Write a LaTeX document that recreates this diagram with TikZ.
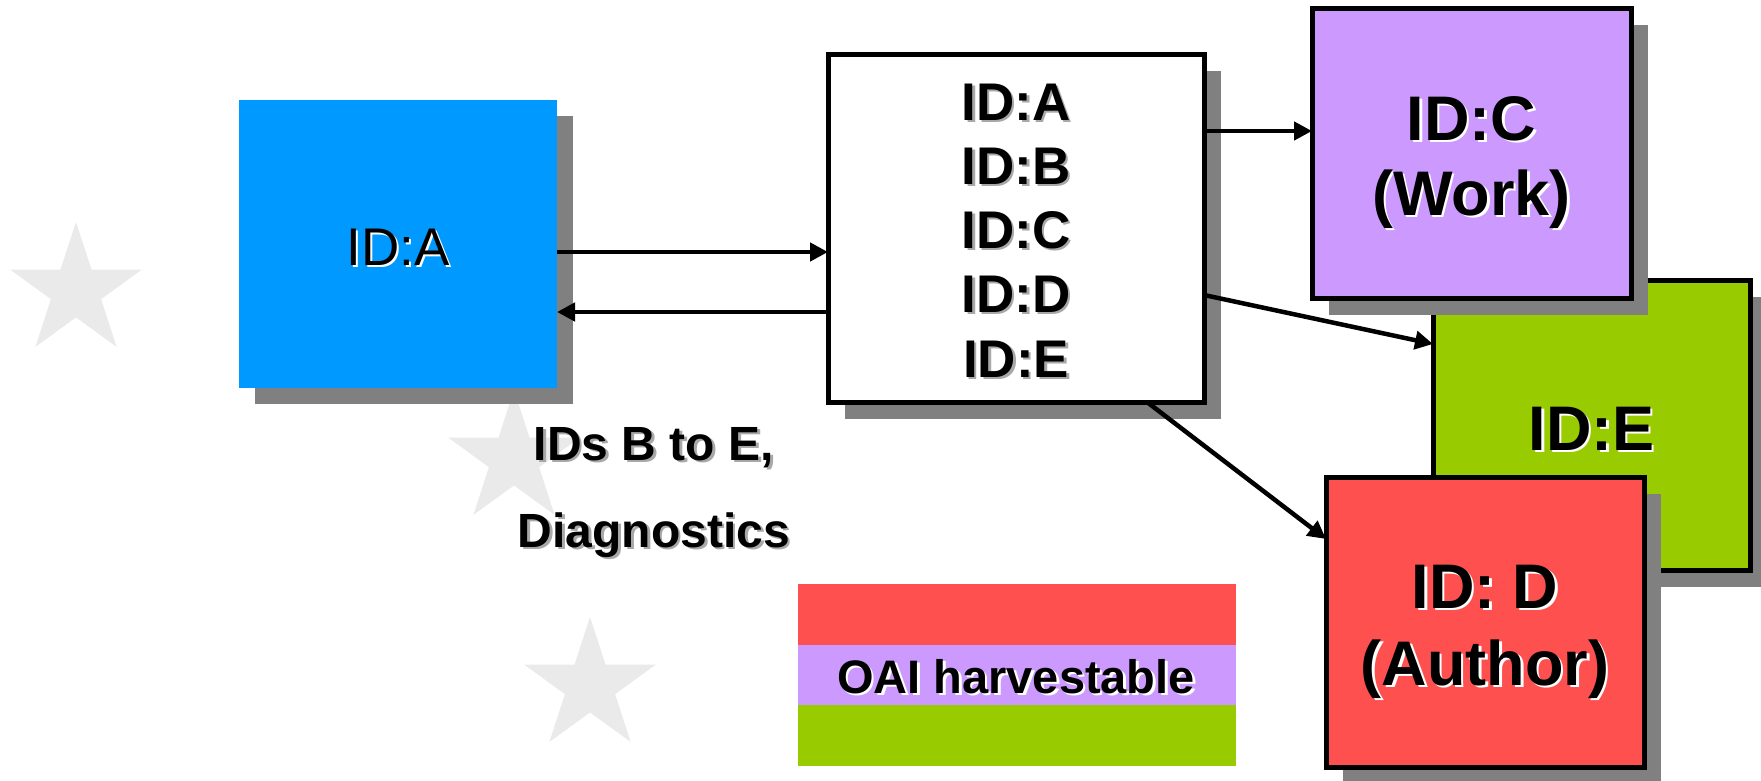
\documentclass[tikz,border=0pt]{standalone}
\usepackage{fontspec}
\setmainfont{Liberation Sans}
\usetikzlibrary{arrows.meta,shadows}
\definecolor{cblue}{HTML}{0099FF}
\definecolor{cpurple}{HTML}{CC99FF}
\definecolor{cgreen}{HTML}{99CC00}
\definecolor{cred}{HTML}{FF5050}
\definecolor{cshadow}{HTML}{808080}
\definecolor{cstar}{HTML}{EAEAEA}
\definecolor{ctshadow}{HTML}{A8A8A8}
\tikzset{
  box/.style={rectangle, inner sep=0pt, outer sep=0pt, line width=5pt, draw=black,
    drop shadow={shadow xshift=17pt, shadow yshift=-17pt, fill=cshadow, opacity=1}},
  plainbox/.style={rectangle, inner sep=0pt, outer sep=0pt, draw=none,
    drop shadow={shadow xshift=16pt, shadow yshift=-16pt, fill=cshadow, opacity=1}},
  stripe/.style={rectangle, inner sep=0pt, outer sep=0pt, draw=none, minimum width=438pt, minimum height=61pt},
  txt/.style={inner sep=0pt, outer sep=0pt, anchor=base, align=center},
  fbig/.style={font=\fontsize{63}{76}\selectfont\bfseries},
  fmid/.style={font=\fontsize{53}{64}\selectfont\bfseries},
  freg/.style={font=\fontsize{53}{64}\selectfont},
  fsmall/.style={font=\fontsize{48}{58}\selectfont\bfseries},
  flegend/.style={font=\fontsize{47}{56}\selectfont\bfseries},
  arr/.style={line width=4.5pt, -{Triangle[length=18pt,width=18pt]}},
}
% name, x, y, shadow colour, font style, text
\newcommand{\shtext}[6]{%
  \node[txt,#5,text=#4,xshift=2.5pt,yshift=-2.5pt] (#1s) at (#2,#3) {#6};
  \node[txt,#5,text=black] (#1) at (#2,#3) {#6};}
\newcommand{\drawstar}[2]{%
  \fill[cstar] (#1,#2) +(-90:69) -- +(-54:26.4) -- +(-18:69) -- +(18:26.4) -- +(54:69)
    -- +(90:26.4) -- +(126:69) -- +(162:26.4) -- +(198:69) -- +(234:26.4) -- cycle;}
\begin{document}
\begin{tikzpicture}[x=1pt,y=-1pt]
\useasboundingbox[fill=white] (0,0) rectangle (1761,780);

% background stars
\drawstar{76}{291}
\drawstar{514}{459}
\drawstar{590}{686}

% boxes
\node[plainbox, fill=cblue, minimum width=318pt, minimum height=288pt] (abox) at (398,244) {};
\node[box, fill=white, minimum width=376pt, minimum height=348pt] (wbox) at (1016,228) {};
\node[box, fill=cgreen, minimum width=317pt, minimum height=290pt] (ebox) at (1591.5,425) {};
\node[box, fill=cpurple, minimum width=319pt, minimum height=290pt] (cbox) at (1471.5,153) {};
\node[box, fill=cred, minimum width=318pt, minimum height=290pt] (dbox) at (1485,622) {};

% legend
\node[stripe, fill=cred] (lred) at (1017,614.5) {};
\node[stripe, fill=cpurple] (lpurple) at (1017,675) {};
\node[stripe, fill=cgreen] (lgreen) at (1017,735.5) {};

% connectors
\draw[arr] (abox.east |- {0,252}) -- (wbox.west |- {0,252});
\draw[arr] (wbox.west |- {0,312}) -- (abox.east |- {0,312});
\draw[arr] (wbox.east |- {0,131}) -- (cbox.west |- {0,131});
\draw[arr] (wbox.east |- {0,295}) -- (ebox.west |- {0,344});
\draw[arr] (wbox.south -| {1147,0}) -- (dbox.west |- {0,539});

% texts
\shtext{ta}{398}{265}{white}{freg}{ID:A}
\shtext{wa}{1016}{120}{ctshadow}{fmid}{ID:A}
\shtext{wb}{1016}{184}{ctshadow}{fmid}{ID:B}
\shtext{wc}{1016}{248}{ctshadow}{fmid}{ID:C}
\shtext{wd}{1016}{312}{ctshadow}{fmid}{ID:D}
\shtext{we}{1016}{377}{ctshadow}{fmid}{ID:E}
\shtext{tc1}{1471.5}{140}{white}{fbig}{ID:C}
\shtext{tc2}{1471.5}{215}{white}{fbig}{(Work)}
\shtext{te}{1591.5}{450}{white}{fbig}{ID:E}
\shtext{td1}{1485}{608}{white}{fbig}{ID: D}
\shtext{td2}{1485}{685}{white}{fbig}{(Author)}
\shtext{ids}{654}{460}{ctshadow}{fsmall}{IDs B to E,}
\shtext{diag}{654}{547}{ctshadow}{fsmall}{Diagnostics}
\shtext{oai}{1016}{693}{white}{flegend}{OAI harvestable}
\end{tikzpicture}
\end{document}
